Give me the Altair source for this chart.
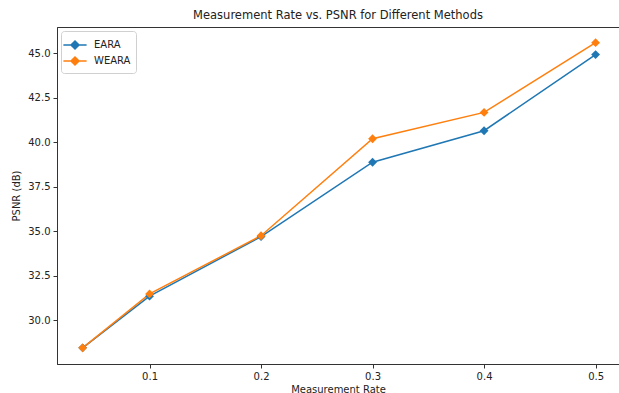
import altair as alt
import pandas as pd

rates = [0.04, 0.1, 0.2, 0.3, 0.4, 0.5]
eara = [28.45, 31.35, 34.7, 38.88, 40.65, 44.93]
weara = [28.45, 31.48, 34.75, 40.2, 41.68, 45.6]
methods = ["EARA", "WEARA"]
colors = ["#1f77b4", "#ff7f0e"]
x_ticks = [0.1, 0.2, 0.3, 0.4, 0.5]
y_ticks = [30.0, 32.5, 35.0, 37.5, 40.0, 42.5, 45.0]

rows = []
for m, vals in zip(methods, [eara, weara]):
    for r, v in zip(rates, vals):
        rows.append({"rate": r, "psnr": v, "method": m})
df = pd.DataFrame(rows)

FONT = "DejaVu Sans"

chart = alt.Chart(df).mark_line(
    strokeWidth=1.5,
    point=alt.OverlayMarkDef(shape="diamond", filled=True, size=78, opacity=1),
).encode(
    x=alt.X("rate:Q", title="Measurement Rate",
            scale=alt.Scale(domain=[0.017, 0.521], nice=False, zero=False),
            axis=alt.Axis(values=x_ticks, format=".1f", grid=False, tickSize=4,
                          labelPadding=3, titlePadding=3)),
    y=alt.Y("psnr:Q", title="PSNR (dB)",
            scale=alt.Scale(domain=[27.54, 46.48], nice=False, zero=False),
            axis=alt.Axis(values=y_ticks, format=".1f", grid=False, tickSize=4,
                          labelPadding=3, titlePadding=6)),
    color=alt.Color("method:N", scale=alt.Scale(domain=methods, range=colors),
                    legend=alt.Legend(title=None, orient="top-left", offset=4,
                                      symbolType="M-1.45,0L1.45,0M0,-0.5L0.5,0L0,0.5L-0.5,0Z",
                                      symbolSize=256, symbolStrokeWidth=1.5,
                                      labelFontSize=10, labelFont=FONT, labelColor="#222",
                                      labelOffset=10,
                                      strokeColor="#d0d0d0", fillColor="white",
                                      cornerRadius=3, padding=5, rowPadding=0)),
    order="rate:Q",
).properties(
    width=562, height=337,
    title=alt.TitleParams("Measurement Rate vs. PSNR for Different Methods",
                          fontSize=11.5, font=FONT, fontWeight="normal",
                          color="#222", offset=6),
    autosize=alt.AutoSizeParams(type="none"),
    padding={"left": 57, "top": 27, "right": 0, "bottom": 29},
).configure_view(
    stroke="#333", strokeWidth=1
).configure_axis(
    labelFont=FONT, titleFont=FONT, labelFontSize=10, titleFontSize=10,
    titleFontWeight="normal", labelColor="#222", titleColor="#222",
    domainColor="#333", tickColor="#333"
)

chart.save("out.html", embed_options={"renderer": "svg", "actions": False})
